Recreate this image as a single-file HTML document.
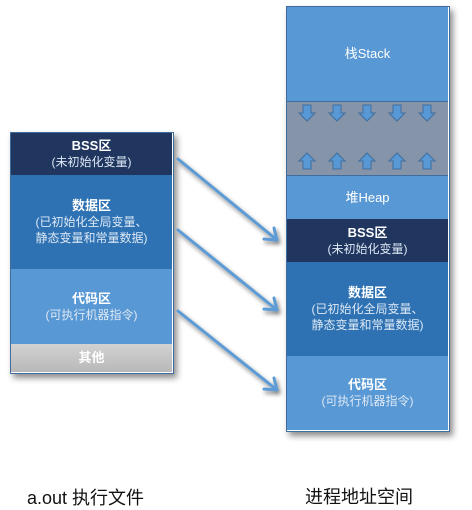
<!DOCTYPE html>
<html><head><meta charset="utf-8">
<style>
body{margin:0;width:472px;height:509px;background:#fff;position:relative;overflow:hidden;font-family:"Liberation Sans","Noto Sans CJK SC",sans-serif;}
.b{position:absolute;color:#fff;text-align:center;box-sizing:border-box;display:flex;flex-direction:column;justify-content:center;align-items:center;font-size:12px;line-height:16px;}
.t{font-weight:bold;font-size:13px;}
.s{color:#dde8f5;}
.box{position:absolute;box-shadow:3px 4px 6px rgba(0,0,0,0.45);border:1px solid #3f6e9e;}
.lab{position:absolute;font-size:18px;color:#111;}
</style></head><body>
<div class="box" style="left:10px;top:132px;width:162px;height:240px;"></div>
<div class="b" style="left:11px;top:133px;width:161px;height:42px;background:#20365f;"><div class="t">BSS区</div><div class="s">(未初始化变量)</div></div>
<div class="b" style="left:11px;top:175px;width:161px;height:94px;background:#2e72b3;"><div class="t">数据区</div><div class="s">(已初始化全局变量、<br>静态变量和常量数据)</div></div>
<div class="b" style="left:11px;top:269px;width:161px;height:75px;background:#5898d4;"><div class="t">代码区</div><div class="s">(可执行机器指令)</div></div>
<div class="b" style="left:11px;top:344px;width:161px;height:28px;background:linear-gradient(#d2d2d2,#b8b8b8);"><div class="t" style="font-weight:bold">其他</div></div>

<div class="box" style="left:286px;top:6px;width:162px;height:424px;"></div>
<div class="b" style="left:287px;top:7px;width:161px;height:94px;background:#5898d4;"><div style="font-size:13px">栈Stack</div></div>
<div class="b" style="left:287px;top:101px;width:161px;height:75px;background:#8594a9;border-top:1px solid #3f6e9e;border-bottom:1px solid #3f6e9e;"></div>
<div class="b" style="left:287px;top:176px;width:161px;height:43px;background:#5898d4;"><div style="font-size:13px">堆Heap</div></div>
<div class="b" style="left:287px;top:219px;width:161px;height:43px;background:#20365f;"><div class="t">BSS区</div><div class="s">(未初始化变量)</div></div>
<div class="b" style="left:287px;top:262px;width:161px;height:94px;background:#2e72b3;"><div class="t">数据区</div><div class="s">(已初始化全局变量、<br>静态变量和常量数据)</div></div>
<div class="b" style="left:287px;top:356px;width:161px;height:74px;background:#5898d4;"><div class="t">代码区</div><div class="s">(可执行机器指令)</div></div>

<svg width="472" height="509" style="position:absolute;left:0;top:0">
<defs>
<filter id="sh" x="-20%" y="-20%" width="140%" height="140%"><feDropShadow dx="2" dy="3" stdDeviation="2" flood-color="#000" flood-opacity="0.5"/></filter>
<g id="dn"><path d="M-4,-8 h8 v8 h4 l-8,8 l-8,-8 h4 z" fill="#5898d4" stroke="#3f6e9e" stroke-width="1"/></g>
<g id="up"><path d="M-4,8 h8 v-8 h4 l-8,-8 l-8,8 h4 z" fill="#5898d4" stroke="#3f6e9e" stroke-width="1"/></g>
</defs>
<g>
<use href="#dn" x="307" y="113"/><use href="#dn" x="337" y="113"/><use href="#dn" x="367" y="113"/><use href="#dn" x="397" y="113"/><use href="#dn" x="427" y="113"/>
<use href="#up" x="307" y="161"/><use href="#up" x="337" y="161"/><use href="#up" x="367" y="161"/><use href="#up" x="397" y="161"/><use href="#up" x="427" y="161"/>
</g>
<g stroke="#5b9bd5" stroke-width="3" fill="none" stroke-linecap="round" stroke-linejoin="round" filter="url(#sh)">
<path d="M178,159 L277,240 M264,239 L277,240 L274,228"/>
<path d="M178,230 L277,310 M264,309 L277,310 L274,298"/>
<path d="M178,311 L277,390 M264,389 L277,390 L274,378"/>
</g>
</svg>
<div class="lab" style="left:27px;top:484px;">a.out 执行文件</div>
<div class="lab" style="left:305px;top:483px;">进程地址空间</div>
</body></html>
